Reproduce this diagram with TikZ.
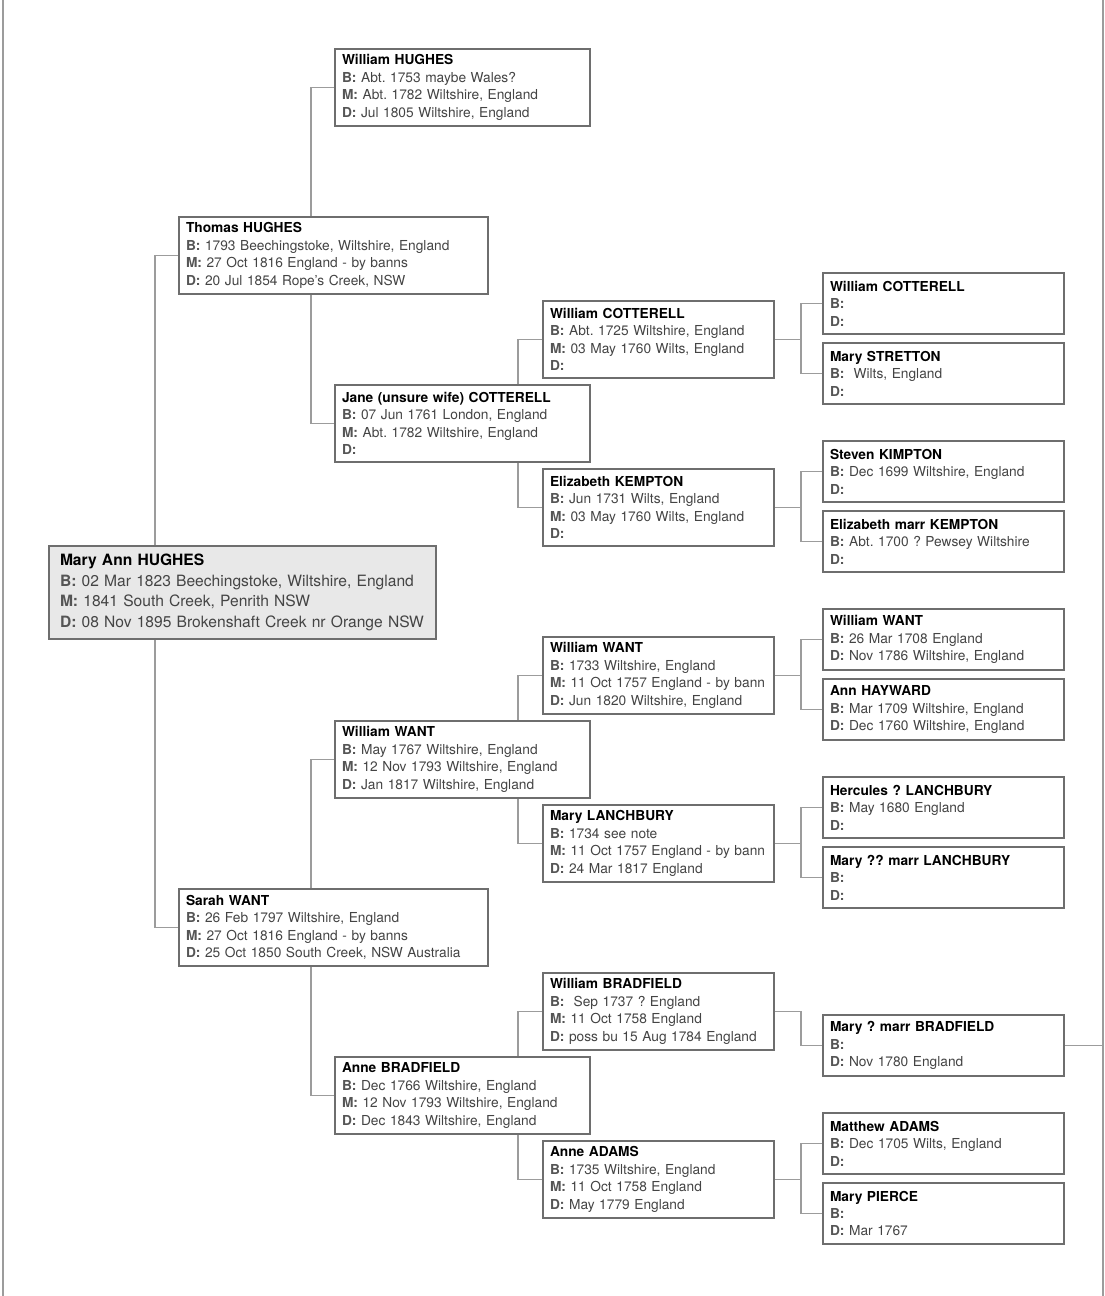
\documentclass[tikz,border=0pt]{standalone}
\usepackage{fontspec}
\setmainfont{TeX Gyre Heros}
\frenchspacing
\usetikzlibrary{calc}
\definecolor{boxline}{HTML}{6E6E6E}
\definecolor{linkgray}{HTML}{9C9C9C}
\definecolor{valtext}{HTML}{444444}
\definecolor{lbltext}{HTML}{555555}
\definecolor{mainfill}{HTML}{E8E8E8}
\newcommand{\nm}[1]{\mbox{\bfseries\color{black}#1}}
\newcommand{\fld}[2]{\mbox{{\bfseries\color{lbltext}#1} #2}}
\tikzset{
  card/.style={draw=boxline, line width=1.5pt, fill=white, anchor=north west, align=left,
    inner xsep=5.25pt, inner ysep=0pt, text=valtext, font=\fontsize{10.3}{13.1}\selectfont},
  gen1/.style={card, text width=221.25pt, minimum height=57.75pt},
  gen2/.style={card, text width=180.75pt, minimum height=57.75pt},
  gen3/.style={card, text width=162.75pt, minimum height=57.75pt},
  gen4/.style={card, text width=170.25pt, minimum height=45.75pt},
  root/.style={card, fill=mainfill, inner xsep=8.25pt, text width=273.75pt, minimum height=69.75pt,
    font=\fontsize{11.7}{15.3}\selectfont},
  link/.style={draw=linkgray, line width=1.2pt},
  frame/.style={draw=linkgray, line width=1.5pt},
}
\begin{document}
\begin{tikzpicture}[x=0.75pt, y=-0.75pt]
  \useasboundingbox (0,0) rectangle (1104,1296);
  % side rules
  \coordinate (frameL) at (3,0);
  \coordinate (frameR) at (1102.5,0);
  \draw[frame] (frameL) -- ++(0,1296);
  \draw[frame] (frameR) -- ++(0,1296);

  % subject
  \node[root] (mary) at (48,545) {\nm{Mary Ann HUGHES}\\\fld{B:}{02 Mar 1823 Beechingstoke, Wiltshire, England}\\\fld{M:}{1841 South Creek, Penrith NSW}\\\fld{D:}{08 Nov 1895 Brokenshaft Creek nr Orange NSW}};

  % parents
  \node[gen1] (thomas) at (178,216) {\nm{Thomas HUGHES}\\\fld{B:}{1793 Beechingstoke, Wiltshire, England}\\\fld{M:}{27 Oct 1816 England - by banns}\\\fld{D:}{20 Jul 1854 Rope's Creek, NSW}};
  \node[gen1] (sarah) at (178,888) {\nm{Sarah WANT}\\\fld{B:}{26 Feb 1797 Wiltshire, England}\\\fld{M:}{27 Oct 1816 England - by banns}\\\fld{D:}{25 Oct 1850 South Creek, NSW Australia}};

  % grandparents
  \node[gen2] (whughes) at (334,48) {\nm{William HUGHES}\\\fld{B:}{Abt. 1753 maybe Wales?}\\\fld{M:}{Abt. 1782 Wiltshire, England}\\\fld{D:}{Jul 1805 Wiltshire, England}};
  \node[gen2] (jane) at (334,384) {\nm{Jane (unsure wife) COTTERELL}\\\fld{B:}{07 Jun 1761 London, England}\\\fld{M:}{Abt. 1782 Wiltshire, England}\\\fld{D:}{}};
  \node[gen2] (wwant) at (334,720) {\nm{William WANT}\\\fld{B:}{May 1767 Wiltshire, England}\\\fld{M:}{12 Nov 1793 Wiltshire, England}\\\fld{D:}{Jan 1817 Wiltshire, England}};
  \node[gen2] (abrad) at (334,1056) {\nm{Anne BRADFIELD}\\\fld{B:}{Dec 1766 Wiltshire, England}\\\fld{M:}{12 Nov 1793 Wiltshire, England}\\\fld{D:}{Dec 1843 Wiltshire, England}};

  % great-grandparents
  \node[gen3] (wcot) at (542,300) {\nm{William COTTERELL}\\\fld{B:}{Abt. 1725 Wiltshire, England}\\\fld{M:}{03 May 1760 Wilts, England}\\\fld{D:}{}};
  \node[gen3] (ekemp) at (542,468) {\nm{Elizabeth KEMPTON}\\\fld{B:}{Jun 1731 Wilts, England}\\\fld{M:}{03 May 1760 Wilts, England}\\\fld{D:}{}};
  \node[gen3] (wwant3) at (542,636) {\nm{William WANT}\\\fld{B:}{1733 Wiltshire, England}\\\fld{M:}{11 Oct 1757 England - by bann}\\\fld{D:}{Jun 1820 Wiltshire, England}};
  \node[gen3] (mlanch) at (542,804) {\nm{Mary LANCHBURY}\\\fld{B:}{1734 see note}\\\fld{M:}{11 Oct 1757 England - by bann}\\\fld{D:}{24 Mar 1817 England}};
  \node[gen3] (wbrad) at (542,972) {\nm{William BRADFIELD}\\\fld{B:}{\ Sep 1737 ? England}\\\fld{M:}{11 Oct 1758 England}\\\fld{D:}{poss bu 15 Aug 1784 England}};
  \node[gen3] (aadams) at (542,1140) {\nm{Anne ADAMS}\\\fld{B:}{1735 Wiltshire, England}\\\fld{M:}{11 Oct 1758 England}\\\fld{D:}{May 1779 England}};

  % great-great-grandparents
  \node[gen4] (wcot4) at (822,272) {\nm{William COTTERELL}\\\fld{B:}{}\\\fld{D:}{}};
  \node[gen4] (mstret) at (822,342) {\nm{Mary STRETTON}\\\fld{B:}{\ Wilts, England}\\\fld{D:}{}};
  \node[gen4] (skimp) at (822,440) {\nm{Steven KIMPTON}\\\fld{B:}{Dec 1699 Wiltshire, England}\\\fld{D:}{}};
  \node[gen4] (ekemp4) at (822,510) {\nm{Elizabeth marr KEMPTON}\\\fld{B:}{Abt. 1700 ? Pewsey Wiltshire}\\\fld{D:}{}};
  \node[gen4] (wwant4) at (822,608) {\nm{William WANT}\\\fld{B:}{26 Mar 1708 England}\\\fld{D:}{Nov 1786 Wiltshire, England}};
  \node[gen4] (ahay) at (822,678) {\nm{Ann HAYWARD}\\\fld{B:}{Mar 1709 Wiltshire, England}\\\fld{D:}{Dec 1760 Wiltshire, England}};
  \node[gen4] (hlanch) at (822,776) {\nm{Hercules ? LANCHBURY}\\\fld{B:}{May 1680 England}\\\fld{D:}{}};
  \node[gen4] (mlanch4) at (822,846) {\nm{Mary ?? marr LANCHBURY}\\\fld{B:}{}\\\fld{D:}{}};
  \node[gen4] (mbrad) at (822,1014) {\nm{Mary ? marr BRADFIELD}\\\fld{B:}{}\\\fld{D:}{Nov 1780 England}};
  \node[gen4] (madams) at (822,1112) {\nm{Matthew ADAMS}\\\fld{B:}{Dec 1705 Wilts, England}\\\fld{D:}{}};
  \node[gen4] (mpierce) at (822,1182) {\nm{Mary PIERCE}\\\fld{B:}{}\\\fld{D:}{Mar 1767}};

  % links
  \draw[link] (thomas.west) -| ($(mary.north west)+(107,0)$);
  \draw[link] (sarah.west) -| ($(mary.south west)+(107,0)$);
  \draw[link] (whughes.west) -| ($(thomas.north west)+(133,0)$);
  \draw[link] (jane.west) -| ($(thomas.south west)+(133,0)$);
  \draw[link] (wwant.west) -| ($(sarah.north west)+(133,0)$);
  \draw[link] (abrad.west) -| ($(sarah.south west)+(133,0)$);
  \draw[link] (wcot.west) -| ($(jane.north west)+(184,0)$);
  \draw[link] (ekemp.west) -| ($(jane.south west)+(184,0)$);
  \draw[link] (wwant3.west) -| ($(wwant.north west)+(184,0)$);
  \draw[link] (mlanch.west) -| ($(wwant.south west)+(184,0)$);
  \draw[link] (wbrad.west) -| ($(abrad.north west)+(184,0)$);
  \draw[link] (aadams.west) -| ($(abrad.south west)+(184,0)$);
  \draw[link] (wcot.east) -- ++(26,0) |- (wcot4.west) (wcot.east) ++(26,0) |- (mstret.west);
  \draw[link] (ekemp.east) -- ++(26,0) |- (skimp.west) (ekemp.east) ++(26,0) |- (ekemp4.west);
  \draw[link] (wwant3.east) -- ++(26,0) |- (wwant4.west) (wwant3.east) ++(26,0) |- (ahay.west);
  \draw[link] (mlanch.east) -- ++(26,0) |- (hlanch.west) (mlanch.east) ++(26,0) |- (mlanch4.west);
  \draw[link] (wbrad.east) -- ++(26,0) |- (mbrad.west);
  \draw[link] (aadams.east) -- ++(26,0) |- (madams.west) (aadams.east) ++(26,0) |- (mpierce.west);
  \draw[link] (mbrad.east) -- (mbrad.east -| frameR);
\end{tikzpicture}
\end{document}
